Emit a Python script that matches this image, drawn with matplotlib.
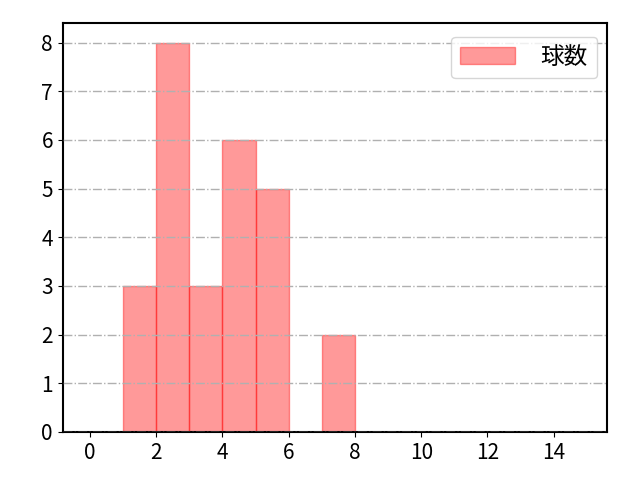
import matplotlib
matplotlib.use("Agg")
import matplotlib.pyplot as plt
import numpy as np

plt.rcParams['font.family'] = ['Noto Sans CJK JP', 'DejaVu Sans']

bin_edges = list(range(0, 16))
counts = [0, 3, 8, 3, 6, 5, 0, 2, 0, 0, 0, 0, 0, 0, 0]
label = "球数"
xticks = [0, 2, 4, 6, 8, 10, 12, 14]

fig = plt.figure(figsize=(6.4, 4.8), dpi=100)
ax = fig.add_axes([0.098, 0.1, 0.85, 0.852])
ax.hist(bin_edges[:-1], bins=bin_edges, weights=counts, color='red', alpha=0.4,
        edgecolor='red', linewidth=1, label=label)
ax.set_xlim(-0.82, 15.6)
ax.set_ylim(0, 8.4)
ax.set_xticks(xticks)
ax.set_yticks(range(0, 9))
ax.tick_params(labelsize=15)
ax.grid(axis='y', linestyle='-.', color='#b0b0b0', linewidth=1)
ax.set_axisbelow(False)
for s in ax.spines.values():
    s.set_linewidth(1.5)
ax.legend(loc='upper right', fontsize=17, handlelength=2.3, handletextpad=1.1,
          borderaxespad=0.4, bbox_to_anchor=(1.0, 0.99))
fig.savefig("out.png", dpi=100)
